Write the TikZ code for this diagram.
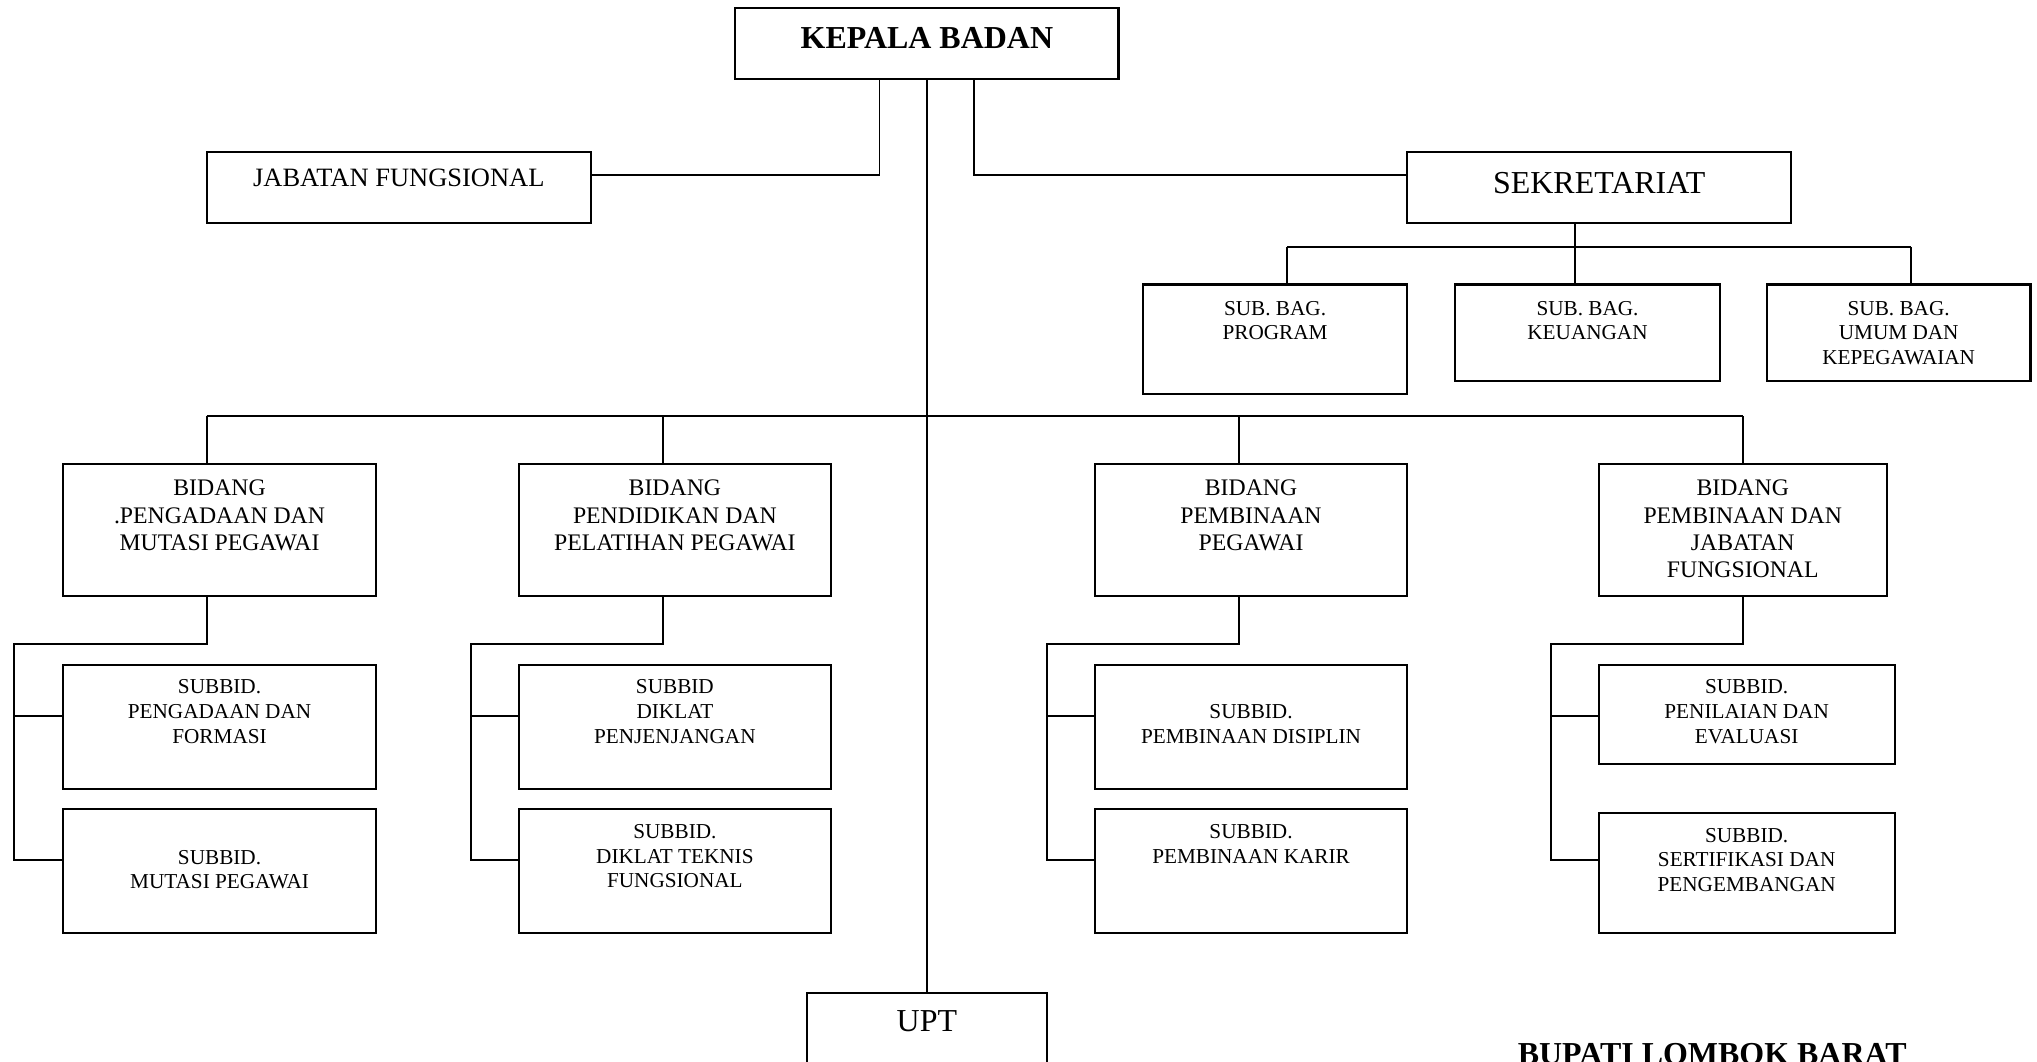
\documentclass[tikz,border=0pt]{standalone}
\usepackage{fontspec}
\setmainfont{Liberation Serif}
\usetikzlibrary{calc}

\newcommand{\kepfont}{\fontsize{14}{16}\selectfont\bfseries}
\newcommand{\bigfont}{\fontsize{14}{16}\selectfont}
\newcommand{\jabfont}{\fontsize{11.6}{13}\selectfont}
\newcommand{\bidfont}{\fontsize{10.4}{12}\selectfont}
\newcommand{\subfont}{\fontsize{9.3}{10.8}\selectfont}

\begin{document}
\begin{tikzpicture}[x=0.02cm, y=-0.02cm,
    unit/.style={draw, rectangle, inner sep=0pt, line width=0.9pt},
    lbl/.style={anchor=north, align=center, inner sep=0pt, text=black},
    link/.style={line width=0.85pt}]
    \useasboundingbox (0,0) rectangle (1568,817);
    \clip (0,0) rectangle (1568,817);

    % top level
    \node[unit, minimum width=5.90cm, minimum height=1.10cm] (kepala) at (713.5,33.5){};
    \node[lbl, font=\kepfont] (kepalat) at ($(kepala.north)+(0,15.8)$){KEPALA BADAN};
    \node[unit, minimum width=5.92cm, minimum height=1.10cm] (jabfung) at (307,144.5){};
    \node[lbl, font=\jabfont] (jabfungt) at ($(jabfung.north)+(0,13.4)$){JABATAN FUNGSIONAL};
    \node[unit, minimum width=5.92cm, minimum height=1.10cm] (sekret) at (1231,144.5){};
    \node[lbl, font=\bigfont] (sekrett) at ($(sekret.north)+(0,16.4)$){SEKRETARIAT};

    % sekretariat
    \node[unit, minimum width=4.06cm, minimum height=1.68cm] (sbprog) at (981.5,261){};
    \node[lbl, font=\subfont] (sbprogt) at ($(sbprog.north)+(0,13.2)$){SUB. BAG.\\PROGRAM};
    \node[unit, minimum width=4.08cm, minimum height=1.48cm] (sbkeu) at (1222,256){};
    \node[lbl, font=\subfont] (sbkeut) at ($(sbkeu.north)+(0,13.2)$){SUB. BAG.\\KEUANGAN};
    \node[unit, minimum width=4.06cm, minimum height=1.48cm] (sbumum) at (1461.5,256){};
    \node[lbl, font=\subfont] (sbumumt) at ($(sbumum.north)+(0,13.2)$){SUB. BAG.\\UMUM DAN\\KEPEGAWAIAN};

    % bidang
    \node[unit, minimum width=4.81cm, minimum height=2.04cm] (bid1) at (169,408){};
    \node[lbl, font=\bidfont] (bid1t) at ($(bid1.north)+(0,12.9)$){BIDANG\\.PENGADAAN DAN\\MUTASI PEGAWAI};
    \node[unit, minimum width=4.81cm, minimum height=2.04cm] (bid2) at (519.5,408){};
    \node[lbl, font=\bidfont] (bid2t) at ($(bid2.north)+(0,12.9)$){BIDANG\\PENDIDIKAN DAN\\PELATIHAN PEGAWAI};
    \node[unit, minimum width=4.81cm, minimum height=2.04cm] (bid3) at (963,408){};
    \node[lbl, font=\bidfont] (bid3t) at ($(bid3.north)+(0,12.9)$){BIDANG\\PEMBINAAN\\PEGAWAI};
    \node[unit, minimum width=4.44cm, minimum height=2.04cm] (bid4) at (1341.5,408){};
    \node[lbl, font=\bidfont] (bid4t) at ($(bid4.north)+(0,12.9)$){BIDANG\\PEMBINAAN DAN\\JABATAN\\FUNGSIONAL};

    % subbidang
    \node[unit, minimum width=4.81cm, minimum height=1.90cm] (suba1) at (169,559.5){};
    \node[lbl, font=\subfont] (suba1t) at ($(suba1.north)+(0,11.8)$){SUBBID.\\PENGADAAN DAN\\FORMASI};
    \node[unit, minimum width=4.81cm, minimum height=1.90cm] (subb1) at (169,670.5){};
    \node[lbl, font=\subfont] (subb1t) at ($(subb1.north)+(0,31.7)$){SUBBID.\\MUTASI PEGAWAI};
    \node[unit, minimum width=4.81cm, minimum height=1.90cm] (suba2) at (519.5,559.5){};
    \node[lbl, font=\subfont] (suba2t) at ($(suba2.north)+(0,11.8)$){SUBBID\\DIKLAT\\PENJENJANGAN};
    \node[unit, minimum width=4.81cm, minimum height=1.90cm] (subb2) at (519.5,670.5){};
    \node[lbl, font=\subfont] (subb2t) at ($(subb2.north)+(0,12)$){SUBBID.\\DIKLAT TEKNIS\\FUNGSIONAL};
    \node[unit, minimum width=4.81cm, minimum height=1.90cm] (suba3) at (963,559.5){};
    \node[lbl, font=\subfont] (suba3t) at ($(suba3.north)+(0,30.7)$){SUBBID.\\PEMBINAAN DISIPLIN};
    \node[unit, minimum width=4.81cm, minimum height=1.90cm] (subb3) at (963,670.5){};
    \node[lbl, font=\subfont] (subb3t) at ($(subb3.north)+(0,12)$){SUBBID.\\PEMBINAAN KARIR};
    \node[unit, minimum width=4.56cm, minimum height=1.52cm] (suba4) at (1344.5,550){};
    \node[lbl, font=\subfont] (suba4t) at ($(suba4.north)+(0,11.8)$){SUBBID.\\PENILAIAN DAN\\EVALUASI};
    \node[unit, minimum width=4.56cm, minimum height=1.85cm] (subb4) at (1344.5,671.75){};
    \node[lbl, font=\subfont] (subb4t) at ($(subb4.north)+(0,12.5)$){SUBBID.\\SERTIFIKASI DAN\\PENGEMBANGAN};

    % upt and signature
    \node[unit, minimum width=3.70cm, minimum height=1.52cm] (upt) at (713.5,802){};
    \node[lbl, font=\bigfont] (uptt) at ($(upt.north)+(0,14)$){UPT};
    \node[lbl, font=\kepfont] (bupati) at (1318,802.7){BUPATI LOMBOK BARAT};

    % lines from the head
    \coordinate (jl) at (677,134.5);
    \coordinate (jr) at (750,134.5);
    \draw[link] (kepala.south -| jl) -- (jl) -- (jabfung.east |- jl);
    \draw[link] (kepala.south -| jr) -- (jr) -- (sekret.west |- jr);
    \draw[link] (kepala.south) -- (upt.north);

    % sekretariat branches
    \coordinate (sk) at (1212,190);
    \coordinate (skl) at (991,190);
    \coordinate (skr) at (1471,190);
    \draw[link] (sekret.south -| sk) -- (sk);
    \draw[link] (skl) -- (skr);
    \draw[link] (skl) -- (sbprog.north -| skl);
    \draw[link] (sk) -- (sbkeu.north -| sk);
    \draw[link] (skr) -- (sbumum.north -| skr);

    % bidang bus
    \coordinate (busl) at (159,320);
    \coordinate (busr) at (1341.5,320);
    \draw[link] (busl) -- (busr);
    \foreach \i/\dx/\tx in {1/159/11, 2/510/362.7, 3/954/806, 4/1341.5/1193.6}{
        \coordinate (dr\i) at (\dx,496);
        \coordinate (tr\i) at (\tx,496);
        \draw[link] (bid\i.north -| dr\i) -- (dr\i |- busl);
        \draw[link] (bid\i.south -| dr\i) -- (dr\i) -- (tr\i) -- (\tx,662) -- (subb\i.west |- 0,662);
        \draw[link] (\tx,551) -- (suba\i.west |- 0,551);
    }
\end{tikzpicture}
\end{document}
